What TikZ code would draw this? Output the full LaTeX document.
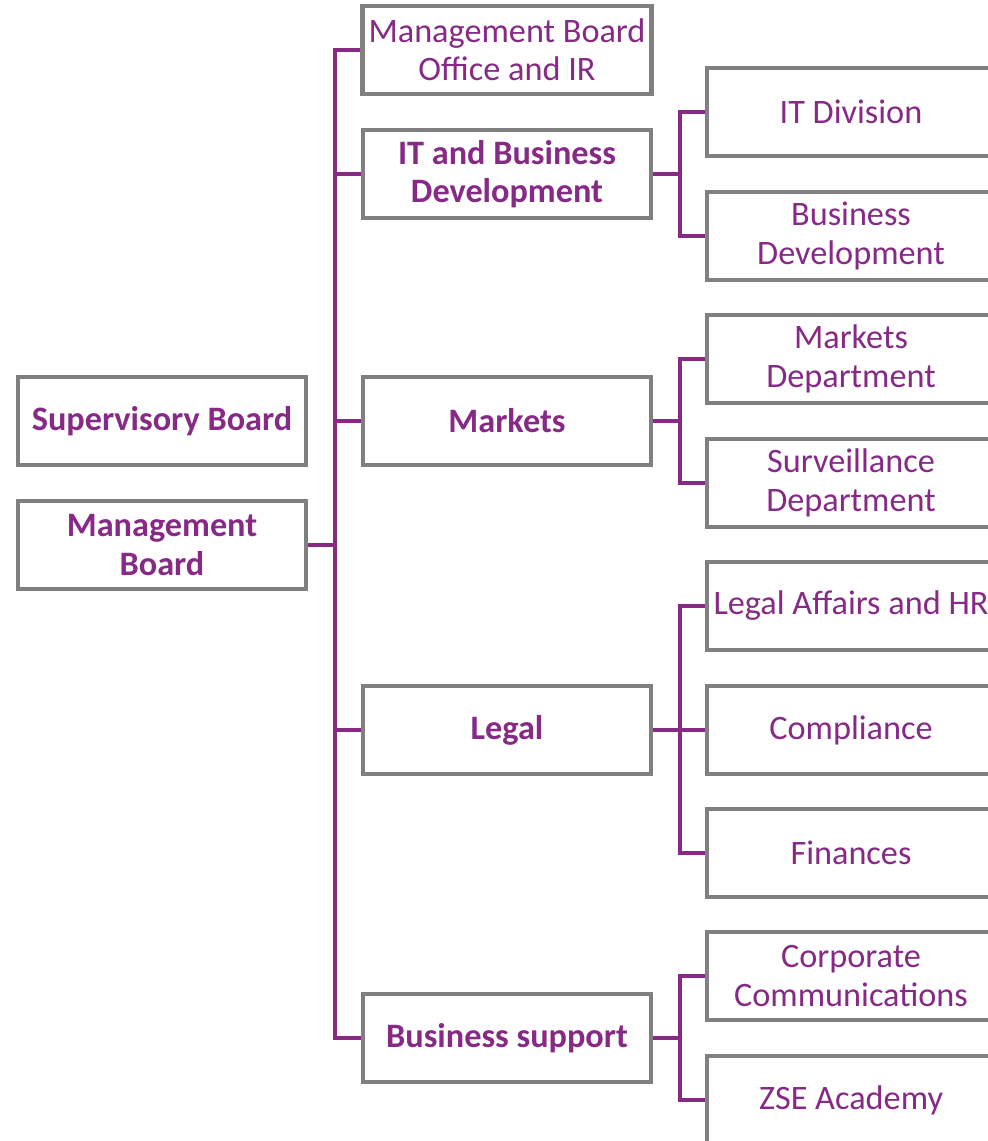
\documentclass[tikz,border=0pt]{standalone}
\usepackage{fontspec}
\setmainfont{Carlito}
\usetikzlibrary{positioning}

\definecolor{zsepurple}{RGB}{134,42,134}
\definecolor{boxgray}{RGB}{128,128,128}

\begin{document}
\begin{tikzpicture}[x=0.02cm,y=-0.02cm]
 \useasboundingbox (0,0) rectangle (987,1141);
 \tikzstyle{every node} = [draw=boxgray,line width=0.09cm,fill=white,
   minimum width=5.76cm,minimum height=1.76cm,align=center,
   text=zsepurple,font=\fontsize{19.5}{21.8}\selectfont]
 \tikzstyle{head} = [font=\fontsize{19.5}{21.8}\selectfont\bfseries]
 \tikzstyle{link} = [draw=zsepurple,line width=0.09cm]
 % left column
 \node[head] (supervisory) at (162,421) {Supervisory Board};
 \node[head] (mgmt) at (162,545) {Management\\Board};
 % middle column
 \node (office) at (507,50) {Management Board\\Office and IR};
 \node[head] (itdev) at (507,174) {IT and Business\\Development};
 \node[head] (markets) at (507,421) {Markets};
 \node[head] (legal) at (507,730) {Legal};
 \node[head] (support) at (507,1038) {Business support};
 % right column
 \node (itdiv) at (851,112) {IT Division};
 \node (busdev) at (851,236) {Business\\Development};
 \node (mktdept) at (851,359) {Markets\\Department};
 \node (survdept) at (851,483) {Surveillance\\Department};
 \node (legalhr) at (851,606) {Legal Affairs and HR};
 \node (compliance) at (851,730) {Compliance};
 \node (finances) at (851,853) {Finances};
 \node (corpcomm) at (851,976) {Corporate\\Communications};
 \node (academy) at (851,1100) {ZSE Academy};
 % connectors
 \coordinate (trunk) at (335,545);
 \draw[link] (mgmt.east) -- (trunk);
 \foreach \n in {office,itdev,markets,legal,support}
   \draw[link] (trunk) |- (\n.west);
 \coordinate (itdevbus) at (680,174);
 \coordinate (marketsbus) at (680,421);
 \coordinate (legalbus) at (680,730);
 \coordinate (supportbus) at (680,1038);
 \foreach \p/\c in {itdev/itdiv,itdev/busdev,markets/mktdept,markets/survdept,
   legal/legalhr,legal/compliance,legal/finances,support/corpcomm,support/academy}
 {
   \draw[link] (\p.east) -- (\p bus);
   \draw[link] (\p bus) |- (\c.west);
 }
\end{tikzpicture}
\end{document}
